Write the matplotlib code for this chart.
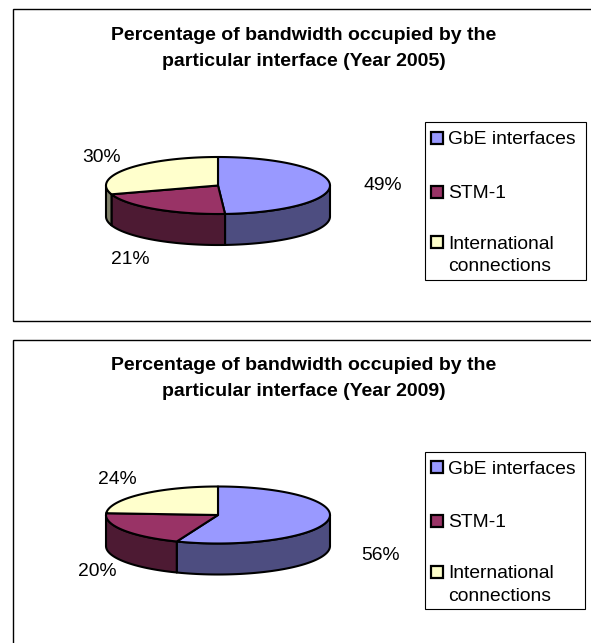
import numpy as np
import matplotlib
matplotlib.use("Agg")
import matplotlib.pyplot as plt
from matplotlib.patches import Polygon, Rectangle

plt.rcParams['font.family'] = ['Liberation Sans', 'DejaVu Sans']

categories = ["GbE interfaces", "STM-1", "International\nconnections"]
values_2005 = [49, 21, 30]
values_2009 = [56, 20, 24]
title_2005 = "Percentage of bandwidth occupied by the\nparticular interface (Year 2005)"
title_2009 = "Percentage of bandwidth occupied by the\nparticular interface (Year 2009)"

top_colors = ["#9999FF", "#993366", "#FFFFCC"]
side_colors = ["#4D4D80", "#4D1A33", "#80806A"]

W, H = 591, 643
fig = plt.figure(figsize=(W / 100, H / 100), dpi=100, facecolor="white")
ax = fig.add_axes([0, 0, 1, 1])
ax.set_xlim(0, W)
ax.set_ylim(H, 0)
ax.axis("off")

LW = 1.5
RX, RY, DEPTH, CX = 112, 28.5, 31, 218


def ell(cy, deg):
    a = np.radians(deg)
    return CX + RX * np.sin(a), cy - RY * np.cos(a)


def draw_pie(cy, values):
    edges = np.concatenate([[0], np.cumsum(values)]) * 3.6
    # side walls: only the front half (90..270 deg clockwise from 12 o'clock)
    for i in range(len(values)):
        a0, a1 = max(edges[i], 90), min(edges[i + 1], 270)
        if a1 <= a0:
            continue
        t = np.linspace(a0, a1, 80)
        x, y = ell(cy, t)
        pts = np.r_[np.c_[x, y], np.c_[x[::-1], y[::-1] + DEPTH]]
        ax.add_patch(Polygon(pts, closed=True, fc=side_colors[i], ec="black", lw=LW, joinstyle="round"))
    # top faces
    for i in range(len(values)):
        t = np.linspace(edges[i], edges[i + 1], 160)
        x, y = ell(cy, t)
        pts = np.r_[[[CX, cy]], np.c_[x, y]]
        ax.add_patch(Polygon(pts, closed=True, fc=top_colors[i], ec="black", lw=LW, joinstyle="round"))


def draw_panel(box_top, box_bottom, title, title_y, cy, values, label_pos, legend_box, legend_rows):
    ax.add_patch(Rectangle((12.5, box_top), W, box_bottom - box_top, fc="white", ec="black", lw=1.0))
    ax.text(303.5, title_y, title, ha="center", va="center", fontsize=14.0,
            fontweight="bold", color="black", linespacing=1.7)
    draw_pie(cy, values)
    for v, (lx, ly) in zip(values, label_pos):
        ax.text(lx, ly, f"{v}%", ha="center", va="center", fontsize=13.9, color="black")
    lx0, ly0, lx1, ly1 = legend_box
    ax.add_patch(Rectangle((lx0, ly0), lx1 - lx0, ly1 - ly0, fc="white", ec="black", lw=0.8))
    for cat, col, (sy, ty) in zip(categories, top_colors, legend_rows):
        ax.add_patch(Rectangle((431.2, sy - 5.8), 11.6, 11.6, fc=col, ec="black", lw=1.6))
        ax.text(448, ty, cat, ha="left", va="center", fontsize=13.9, color="black",
                linespacing=1.42, multialignment="left")


draw_panel(9, 320.5, title_2005, 48.5, 185.5, values_2005,
           [(383, 186), (130, 259.5), (102, 157.5)],
           (424.5, 122, 585.5, 280),
           [(138, 139.5), (192, 193.5), (242, 255.5)])
draw_panel(340, 700, title_2009, 378.5, 515, values_2009,
           [(381, 555.5), (97, 571.5), (117, 479.5)],
           (424.5, 452, 585, 609),
           [(467, 469), (521, 522.5), (572, 585)])

fig.savefig("out.png", dpi=100, facecolor="white")
